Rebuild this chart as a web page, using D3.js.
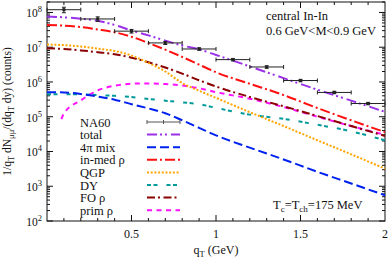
<!DOCTYPE html>
<html>
<head>
<meta charset="utf-8">
<script src="https://cdn.jsdelivr.net/npm/d3@7"></script>
<style>
  body { margin: 0; background: #fff; }
  text { font-family: "Liberation Serif", "DejaVu Serif", serif; fill: #111; }
</style>
</head>
<body>
<div id="chart"></div>
<script>
// curve grid (qT in GeV)
var qGrid = [0, 0.1, 0.2, 0.3, 0.4, 0.5, 0.6, 0.7, 0.8, 0.9, 1.0, 1.2, 1.4, 1.6, 1.8, 2.0];

var totalY  = [7.67e7, 7.24e7, 6.61e7, 5.75e7, 4.37e7, 3.02e7, 2.19e7, 1.55e7, 1.12e7, 8.7e6, 6.0e6, 2.8e6, 1.29e6, 6.0e5, 2.9e5, 1.38e5];
var mixY    = [5.1e5, 5.0e5, 4.5e5, 3.8e5, 3.1e5, 2.3e5, 1.74e5, 1.26e5, 7.9e4, 4.8e4, 2.9e4, 1.29e4, 5.9e3, 2.6e3, 1.2e3, 5.5e2];
var inmedY  = [4.37e7, 4.17e7, 3.8e7, 3.24e7, 2.69e7, 2.0e7, 1.32e7, 8.5e6, 5.25e6, 3.16e6, 1.9e6, 8.9e5, 4.2e5, 1.78e5, 7.9e4, 3.6e4];
var qgpY    = [1.2e7, 1.15e7, 1.05e7, 9.1e6, 7.8e6, 5.75e6, 3.55e6, 2.0e6, 9.3e5, 5.6e5, 3.5e5, 1.35e5, 5.4e4, 2.1e4, 8.3e3, 3.2e3];
var dyY     = [4.4e5, 4.4e5, 4.4e5, 4.2e5, 4.0e5, 3.7e5, 3.25e5, 2.9e5, 2.6e5, 2.3e5, 1.8e5, 1.15e5, 8.7e4, 5.9e4, 3.8e4, 2.1e4];
var foY     = [9.3e6, 8.9e6, 8.1e6, 7.2e6, 6.3e6, 5.0e6, 3.7e6, 2.6e6, 1.74e6, 1.12e6, 7.4e5, 3.7e5, 2.0e5, 1.05e5, 5.4e4, 2.8e4];

// prim rho starts a bit above zero
var primQ   = [0.085, 0.1, 0.2, 0.3, 0.4, 0.5, 0.6, 0.7, 0.8, 0.9, 1.0, 1.2, 1.4, 1.6, 1.8, 2.0];
var primY   = [8.5e4, 1.25e5, 2.95e5, 5.75e5, 7.8e5, 8.9e5, 9.1e5, 8.7e5, 7.9e5, 6.6e5, 5.1e5, 3.3e5, 1.9e5, 1.0e5, 5.4e4, 3.0e4];

// NA60 data
var naQ   = [0.1, 0.3, 0.5, 0.7, 0.9, 1.1, 1.3, 1.5, 1.7, 1.9];
var naY   = [1.2e8, 6.5e7, 2.9e7, 1.33e7, 8.9e6, 4.4e6, 2.7e6, 1.1e6, 5.0e5, 2.4e5];
var naErr = [0.18, 0.15, 0.12, 0.1, 0.08, 0.08, 0.08, 0.08, 0.08, 0.08];
var naBin = 0.1;

var xTicks = [0.5, 1, 1.5, 2];
var yTicks = [2, 3, 4, 5, 6, 7, 8];

// define some dimensions
var W = 390, H = 260;
var margin = {top: 2, right: 5, bottom: 39, left: 47};
var width = W - margin.left - margin.right,
  height = H - margin.top - margin.bottom;

var root = d3.select("#chart").append("svg")
  .attr("width", W).attr("height", H);
var svg = root.append("g")
  .attr("transform", `translate(${margin.left}, ${margin.top})`);

var x = d3.scaleLinear().domain([0, 2]).range([0, width]);
var y = d3.scaleLog().domain([100, 2e8]).range([height, 0]);

// frame
svg.append("rect")
  .attr("width", width).attr("height", height)
  .attr("fill", "none").attr("stroke", "#111").attr("stroke-width", 1);

// x ticks, inward on top and bottom
var xMinor = d3.range(1, 20).map(function(i) { return i / 10; });
xMinor.forEach(function(v) {
  var major = xTicks.indexOf(+v.toFixed(1)) >= 0;
  var len = major ? 6 : 3;
  svg.append("line").attr("x1", x(v)).attr("x2", x(v))
    .attr("y1", height).attr("y2", height - len).attr("stroke", "#111");
  svg.append("line").attr("x1", x(v)).attr("x2", x(v))
    .attr("y1", 0).attr("y2", len).attr("stroke", "#111");
});
xTicks.forEach(function(v) {
  svg.append("text")
    .attr("x", x(v)).attr("y", height + 17)
    .attr("text-anchor", "middle").attr("font-size", "12px")
    .text(v);
});

// y ticks (log), inward on left and right
for (var e = 2; e <= 8; e++) {
  for (var m = 1; m < 10; m++) {
    var v = m * Math.pow(10, e);
    if (v > 2e8) break;
    var len = m == 1 ? 6 : 3;
    svg.append("line").attr("x1", 0).attr("x2", len)
      .attr("y1", y(v)).attr("y2", y(v)).attr("stroke", "#111");
    svg.append("line").attr("x1", width).attr("x2", width - len)
      .attr("y1", y(v)).attr("y2", y(v)).attr("stroke", "#111");
  }
}
yTicks.forEach(function(p) {
  var t = svg.append("text")
    .attr("x", -5).attr("y", y(Math.pow(10, p)) + 5)
    .attr("text-anchor", "end").attr("font-size", "11.5px");
  t.append("tspan").text("10");
  t.append("tspan").attr("dy", -5).attr("font-size", "8.5px").text(p);
});

// axis titles
var xl = svg.append("text")
  .attr("x", x(1)).attr("y", height + 33)
  .attr("text-anchor", "middle").attr("font-size", "12px");
xl.append("tspan").text("q");
xl.append("tspan").attr("dy", 3).attr("font-size", "8.5px").text("T");
xl.append("tspan").attr("dy", -3).text(" (GeV)");

var yl = svg.append("text")
  .attr("transform", `translate(${-36}, ${height / 2}) rotate(-90)`)
  .attr("text-anchor", "middle").attr("font-size", "11.5px");
yl.append("tspan").text("1/q");
yl.append("tspan").attr("dy", 3).attr("font-size", "8.5px").text("T");
yl.append("tspan").attr("dy", -3).text(" dN");
yl.append("tspan").attr("dy", 3).attr("font-size", "8.5px").text("μμ");
yl.append("tspan").attr("dy", -3).text("/(dq");
yl.append("tspan").attr("dy", 3).attr("font-size", "8.5px").text("T");
yl.append("tspan").attr("dy", -3).text(" dy) (counts)");

// curves
var series = [
  {name: "total",    q: qGrid, v: totalY, color: "#9a30e8", dash: "10,3,2,3,2,4"},
  {name: "4π mix",   q: qGrid, v: mixY,   color: "#0022ee", dash: "9,4"},
  {name: "in-med ρ", q: qGrid, v: inmedY, color: "#ff1010", dash: "10,3,2,3"},
  {name: "QGP",      q: qGrid, v: qgpY,   color: "#ffa500", dash: "2,1.7"},
  {name: "DY",       q: qGrid, v: dyY,    color: "#009a9a", dash: "4,2.5,4,9"},
  {name: "FO ρ",     q: qGrid, v: foY,    color: "#8b0000", dash: "8,3,2,3.5"},
  {name: "prim ρ",   q: primQ, v: primY,  color: "#ff10ff", dash: "5,4.5"}
];

var line = d3.line()
  .x(function(d) { return x(d[0]); })
  .y(function(d) { return y(d[1]); })
  .curve(d3.curveMonotoneX);

var plot = svg.append("g");
series.slice().reverse().forEach(function(s) {
  plot.append("path")
    .datum(s.q.map(function(q, i) { return [q, s.v[i]]; }))
    .attr("d", line)
    .attr("fill", "none")
    .attr("stroke", s.color)
    .attr("stroke-width", 2)
    .attr("stroke-dasharray", s.dash);
});

// NA60 points with error bars
var pts = svg.append("g");
naQ.forEach(function(q, i) {
  var cy = y(naY[i]);
  var c = "#222";
  pts.append("line").attr("x1", x(q - naBin)).attr("x2", x(q + naBin))
    .attr("y1", cy).attr("y2", cy).attr("stroke", c).attr("stroke-width", 1);
  [q - naBin, q + naBin].forEach(function(e) {
    pts.append("line").attr("x1", x(e)).attr("x2", x(e))
      .attr("y1", cy - 2).attr("y2", cy + 2).attr("stroke", c);
  });
  var y1 = y(naY[i] * (1 + naErr[i])), y2 = y(naY[i] * (1 - naErr[i]));
  pts.append("line").attr("x1", x(q)).attr("x2", x(q))
    .attr("y1", y1).attr("y2", y2).attr("stroke", c);
  pts.append("line").attr("x1", x(q) - 2).attr("x2", x(q) + 2)
    .attr("y1", y1).attr("y2", y1).attr("stroke", c);
  pts.append("line").attr("x1", x(q) - 2).attr("x2", x(q) + 2)
    .attr("y1", y2).attr("y2", y2).attr("stroke", c);
  pts.append("rect").attr("x", x(q) - 1.5).attr("y", cy - 1.5)
    .attr("width", 3).attr("height", 3).attr("fill", c);
});

// legend, placed in page pixels: text at 80, sample lines 147..180
var legX = 80, legLine = [147, 180], legY0 = 122, rowH = 12.6;
var leg = root.append("g");
var entries = ["NA60"].concat(series.map(function(s) { return s.name; }));
entries.forEach(function(name, i) {
  var ty = legY0 + i * rowH;
  leg.append("text").attr("x", legX).attr("y", ty + 4.5)
    .attr("font-size", "12.5px").text(name);
  if (i == 0) {
    leg.append("line").attr("x1", legLine[0]).attr("x2", legLine[1])
      .attr("y1", ty).attr("y2", ty).attr("stroke", "#555");
    [legLine[0], (legLine[0] + legLine[1]) / 2, legLine[1]].forEach(function(ex) {
      leg.append("line").attr("x1", ex).attr("x2", ex)
        .attr("y1", ty - 2).attr("y2", ty + 2).attr("stroke", "#555");
    });
  } else {
    var s = series[i - 1];
    leg.append("line").attr("x1", legLine[0]).attr("x2", legLine[1])
      .attr("y1", ty).attr("y2", ty)
      .attr("stroke", s.color).attr("stroke-width", 2)
      .attr("stroke-dasharray", s.dash);
  }
});

// annotations (page pixels)
root.append("text").attr("x", 266).attr("y", 20)
  .attr("font-size", "12.5px").text("central In-In");
root.append("text").attr("x", 266).attr("y", 35)
  .attr("font-size", "12.5px").text("0.6 GeV<M<0.9 GeV");
var tc = root.append("text").attr("x", 273).attr("y", 209)
  .attr("font-size", "12.5px");
tc.append("tspan").text("T");
tc.append("tspan").attr("dy", 3).attr("font-size", "9px").text("c");
tc.append("tspan").attr("dy", -3).text("=T");
tc.append("tspan").attr("dy", 3).attr("font-size", "9px").text("ch");
tc.append("tspan").attr("dy", -3).text("=175 MeV");
</script>
</body>
</html>
